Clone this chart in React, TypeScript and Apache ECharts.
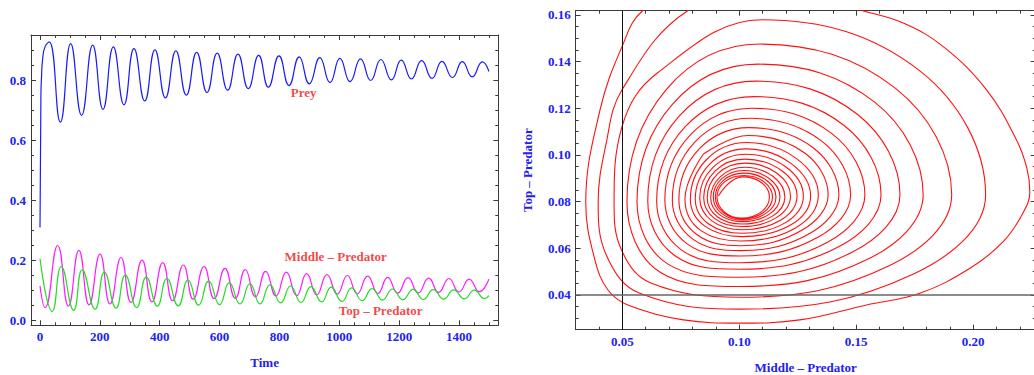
import React, { useEffect, useRef } from "react";
import * as echarts from "echarts";

// ---------- time series (left panel): [time, value] read from peaks / troughs ----------
const preyCurve: [number, number][] = [
  [0, 0.309], [3, 0.75], [5, 0.81], [9, 0.873], [17, 0.912], [31, 0.928], [68, 0.66],
  [102.5, 0.922], [139, 0.683], [176, 0.917], [210.5, 0.703], [245, 0.911], [280.6, 0.718],
  [314, 0.905], [350, 0.731], [384, 0.901], [419, 0.741], [454, 0.898], [489, 0.75],
  [523.5, 0.893], [558, 0.759], [592, 0.89], [627, 0.767], [661.5, 0.887], [696, 0.772],
  [730.6, 0.883], [763, 0.777], [798.5, 0.881], [832, 0.782], [866, 0.878], [900, 0.788],
  [935, 0.875], [969, 0.792], [1002, 0.873], [1036, 0.795], [1071, 0.871], [1105, 0.799],
  [1139, 0.869], [1174, 0.801], [1207, 0.867], [1241, 0.804], [1275, 0.865], [1310, 0.806],
  [1343, 0.863], [1378, 0.809], [1411, 0.862], [1444, 0.811], [1478, 0.861], [1500, 0.829],
];

const middleCurve: [number, number][] = [
  [0, 0.114], [17, 0.042], [59, 0.249], [95, 0.047], [130, 0.233], [164, 0.051],
  [200.5, 0.22], [234, 0.054], [270.6, 0.209], [304, 0.059], [341, 0.2], [374, 0.061],
  [410, 0.192], [443, 0.065], [479, 0.184], [512, 0.07], [548, 0.179], [582, 0.072],
  [618, 0.173], [652.5, 0.073], [686, 0.169], [720, 0.078], [754, 0.163], [788.5, 0.081],
  [823, 0.16], [857.6, 0.082], [891, 0.155], [924.6, 0.084], [959, 0.152], [993, 0.087],
  [1027, 0.149], [1060, 0.088], [1095, 0.147], [1129, 0.089], [1161.5, 0.143], [1195, 0.09],
  [1229.5, 0.142], [1264, 0.091], [1298.6, 0.14], [1332, 0.093], [1366.5, 0.139], [1400, 0.094],
  [1434, 0.137], [1468, 0.095], [1500, 0.137],
];

const topCurve: [number, number][] = [
  [0, 0.205], [41, 0.029], [71, 0.179], [112.5, 0.033], [141, 0.168], [184, 0.037],
  [215, 0.16], [254, 0.04], [285, 0.15], [323, 0.042], [355, 0.144], [392, 0.047],
  [424, 0.139], [462, 0.048], [494.5, 0.134], [530, 0.05], [563.5, 0.13], [600, 0.052],
  [632.5, 0.125], [668, 0.054], [701.6, 0.122], [735, 0.054], [768.5, 0.118], [804, 0.058],
  [837.6, 0.114], [872, 0.059], [905.5, 0.112], [941, 0.061], [973, 0.11], [1009, 0.063],
  [1041.5, 0.108], [1076, 0.065], [1110, 0.105], [1144, 0.067], [1178, 0.104], [1212, 0.068],
  [1247, 0.103], [1281, 0.069], [1314, 0.102], [1349, 0.07], [1382, 0.101], [1418, 0.071],
  [1451, 0.1], [1486, 0.072], [1500, 0.082],
];

// annotations (data coordinates of the left panel)
const labelNames = ["Prey", "Middle \u2013 Predator", "Top \u2013 Predator"];
const labelTimes = [881, 988, 1138];
const labelValues = [0.758, 0.214, 0.032];

// ---------- phase portrait (right panel): [middle, top] ----------
// outer turns (read with extra shoulder points)
const phaseOuter: [number, number][] = [
  [0.113, 0.2],
  [0.0588, 0.1619], [0.0499, 0.1464], [0.0405, 0.1193], [0.0344, 0.0794], [0.0383, 0.055],
  [0.0439, 0.0421], [0.0524, 0.0357], [0.0761, 0.0293], [0.1003, 0.0279], [0.1259, 0.0293],
  [0.1544, 0.0357], [0.1772, 0.0407], [0.1986, 0.0514], [0.2128, 0.0628], [0.2208, 0.0743],
  [0.2242, 0.0841], [0.2229, 0.0944], [0.2185, 0.1064], [0.2057, 0.1279], [0.1872, 0.1464],
  [0.1701, 0.1565], [0.1523, 0.1619], [0.1174, 0.172],
  [0.0781, 0.1619], [0.0499, 0.1279], [0.043, 0.1043], [0.0397, 0.0794], [0.0434, 0.0566],
  [0.0575, 0.0407], [0.1003, 0.0339], [0.1745, 0.049], [0.2053, 0.0829], [0.1773, 0.1359],
  [0.1097, 0.1579], [0.065, 0.1351],
  [0.0499, 0.1121], [0.0465, 0.0794], [0.0497, 0.0592], [0.0622, 0.0451], [0.1003, 0.039],
  [0.1643, 0.0526], [0.1908, 0.0829], [0.1668, 0.1285], [0.1088, 0.1475], [0.0687, 0.1279],
  [0.052, 0.0799], [0.0662, 0.0497], [0.1003, 0.0436], [0.1557, 0.0557], [0.1786, 0.0829],
  [0.158, 0.1225], [0.108, 0.1389], [0.0715, 0.1218],
  [0.0563, 0.0799], [0.0692, 0.0534], [0.1003, 0.0476], [0.1486, 0.0585], [0.1687, 0.0829],
  [0.1506, 0.1173], [0.1071, 0.1316], [0.0744, 0.1167],
  [0.0609, 0.0803], [0.0724, 0.0569], [0.1003, 0.051], [0.1429, 0.0609], [0.1606, 0.0829],
  [0.1447, 0.1127], [0.1063, 0.125], [0.0769, 0.1121],
  [0.0647, 0.0803], [0.0751, 0.0594], [0.1003, 0.0538], [0.1381, 0.0628], [0.1537, 0.0829],
  [0.1396, 0.1091], [0.1054, 0.12], [0.0791, 0.1086],
  [0.0682, 0.0807], [0.0776, 0.062], [0.1003, 0.0567], [0.1338, 0.0648], [0.1476, 0.0829],
  [0.135, 0.1061], [0.1046, 0.1157], [0.0811, 0.1056],
  [0.0714, 0.0807], [0.08, 0.064], [0.1007, 0.059], [0.1303, 0.0664], [0.1426, 0.0829],
  [0.1313, 0.1033], [0.1041, 0.1117], [0.083, 0.1027],
  [0.0742, 0.0807], [0.082, 0.0658], [0.1007, 0.0611], [0.1271, 0.0679], [0.138, 0.0829],
  [0.128, 0.1008], [0.1037, 0.1083], [0.0847, 0.1004],
];
// inner turns (extremes only: left, bottom, right, top)
const phaseInner: [number, number][] = [
  [0.0847, 0.1004],
  [0.0768, 0.0811], [0.1007, 0.0631], [0.1338, 0.0829], [0.1033, 0.1053],
  [0.0791, 0.0811], [0.1012, 0.065], [0.1305, 0.0824], [0.1029, 0.1026],
  [0.0812, 0.0811], [0.1012, 0.0664], [0.1274, 0.0824], [0.1029, 0.1003],
  [0.0831, 0.0816], [0.1012, 0.0679], [0.1247, 0.0824], [0.1024, 0.0982],
  [0.0848, 0.0816], [0.1012, 0.0693], [0.1219, 0.0824], [0.1024, 0.0965],
  [0.0863, 0.0816], [0.1012, 0.0704], [0.1195, 0.082], [0.1024, 0.0947],
  [0.0878, 0.0816], [0.1012, 0.0714], [0.1174, 0.082], [0.102, 0.0933],
  [0.0889, 0.082], [0.1012, 0.0721], [0.1157, 0.082], [0.102, 0.0922],
  [0.0898, 0.082], [0.1012, 0.0726], [0.1142, 0.082], [0.102, 0.0912],
  [0.0905, 0.082], [0.1012, 0.0729], [0.1129, 0.082], [0.1016, 0.0906],
  [0.0911, 0.0824],
];
const refLineMiddle = 0.05;
const refLineTop = 0.04;

// ---------- ticks ----------
const timeMajor = [0, 200, 400, 600, 800, 1000, 1200, 1400];
const timeMinor = [0, 50, 100, 150, 200, 250, 300, 350, 400, 450, 500, 550, 600, 650, 700, 750,
  800, 850, 900, 950, 1000, 1050, 1100, 1150, 1200, 1250, 1300, 1350, 1400, 1450, 1500];
const popMajor = [0, 0.2, 0.4, 0.6, 0.8];
const popMinor = [0, 0.05, 0.1, 0.15, 0.2, 0.25, 0.3, 0.35, 0.4, 0.45, 0.5, 0.55, 0.6, 0.65,
  0.7, 0.75, 0.8, 0.85, 0.9];
const midMajor = [0.05, 0.1, 0.15, 0.2];
const midMinor = [0.04, 0.05, 0.06, 0.07, 0.08, 0.09, 0.1, 0.11, 0.12, 0.13, 0.14, 0.15, 0.16,
  0.17, 0.18, 0.19, 0.2, 0.21, 0.22];
const topMajor = [0.04, 0.06, 0.08, 0.1, 0.12, 0.14, 0.16];
const topMinor = [0.03, 0.035, 0.04, 0.045, 0.05, 0.055, 0.06, 0.065, 0.07, 0.075, 0.08, 0.085,
  0.09, 0.095, 0.1, 0.105, 0.11, 0.115, 0.12, 0.125, 0.13, 0.135, 0.14, 0.145, 0.15, 0.155, 0.16];

const FONT = "'Liberation Serif', 'Times New Roman', serif";
const BLUE = "#2222ee";
const RED = "#f01414";
const FRAME = "#3a3a3a";

const textStyle = { color: BLUE, fontFamily: FONT, fontWeight: "bold" as const, fontSize: 13 };

function makeAxis(
  gridIndex: number,
  position: string,
  min: number,
  max: number,
  ticks: number[],
  len: number,
  main: boolean,
  labels?: number[],
  fmt?: (v: number) => string,
  name?: string,
  nameGap?: number
) {
  const ax: any = {
    type: "value",
    gridIndex,
    position,
    min,
    max,
    splitLine: { show: false },
    axisLine: { show: main, onZero: false, lineStyle: { color: FRAME, width: 1 } },
    axisTick: {
      show: true,
      inside: true,
      length: len,
      customValues: ticks,
      lineStyle: { color: FRAME, width: 1 },
    },
    axisLabel: labels
      ? { show: true, customValues: labels, formatter: fmt, margin: 5, ...textStyle }
      : { show: false },
  };
  if (name) {
    ax.name = name;
    ax.nameLocation = "middle";
    ax.nameGap = nameGap;
    ax.nameTextStyle = { ...textStyle };
  }
  return ax;
}

export default function App() {
  const ref = useRef<HTMLDivElement>(null);

  useEffect(() => {
    if (!ref.current) return;
    const chart = echarts.init(ref.current, undefined, { renderer: "svg" });

    const tMin = -30.1, tMax = 1531.3, pMin = -0.017, pMax = 0.9507;
    const mMin = 0.0301, mMax = 0.2267, qMin = 0.0251, qMax = 0.1618;
    const g0 = { left: 31, top: 35, width: 467.3, height: 290.3, outerBoundsMode: "none", containLabel: false };
    const g1 = { left: 575.7, top: 10.7, width: 460, height: 319, outerBoundsMode: "none", containLabel: false };
    const redLine = { color: "#ff1010", width: 1.1 };

    const option: any = {
      animation: false,
      grid: [g0, g0, g1, g1],
      xAxis: [
        makeAxis(0, "bottom", tMin, tMax, timeMajor, 5, true, timeMajor, (v) => String(v), "Time", 31),
        makeAxis(0, "top", tMin, tMax, timeMajor, 5, true),
        makeAxis(1, "bottom", tMin, tMax, timeMinor, 3, false),
        makeAxis(1, "top", tMin, tMax, timeMinor, 3, false),
        makeAxis(2, "bottom", mMin, mMax, midMajor, 5, true, midMajor, (v) => v.toFixed(2), "Middle \u2013 Predator", 31),
        makeAxis(2, "top", mMin, mMax, midMajor, 5, true),
        makeAxis(3, "bottom", mMin, mMax, midMinor, 3, false),
        makeAxis(3, "top", mMin, mMax, midMinor, 3, false),
      ],
      yAxis: [
        makeAxis(0, "left", pMin, pMax, popMajor, 5, true, popMajor, (v) => v.toFixed(1)),
        makeAxis(0, "right", pMin, pMax, popMajor, 5, true),
        makeAxis(1, "left", pMin, pMax, popMinor, 3, false),
        makeAxis(1, "right", pMin, pMax, popMinor, 3, false),
        makeAxis(2, "left", qMin, qMax, topMajor, 5, true, topMajor, (v) => v.toFixed(2), "Top \u2013 Predator", 42),
        makeAxis(2, "right", qMin, qMax, topMajor, 5, true),
        makeAxis(3, "left", qMin, qMax, topMinor, 3, false),
        makeAxis(3, "right", qMin, qMax, topMinor, 3, false),
      ],
      series: [
        {
          type: "line", xAxisIndex: 0, yAxisIndex: 0, data: preyCurve, smooth: 0.5,
          showSymbol: false, lineStyle: { color: "#1a1aff", width: 1.2 }, silent: true,
        },
        {
          type: "line", xAxisIndex: 0, yAxisIndex: 0, data: middleCurve, smooth: 0.5,
          showSymbol: false, lineStyle: { color: "#ff1aff", width: 1.2 }, silent: true,
        },
        {
          type: "line", xAxisIndex: 0, yAxisIndex: 0, data: topCurve, smooth: 0.5,
          showSymbol: false, lineStyle: { color: "#22dd22", width: 1.2 }, silent: true,
        },
        {
          type: "scatter", xAxisIndex: 0, yAxisIndex: 0, symbolSize: 1, silent: true,
          itemStyle: { color: "rgba(0,0,0,0)" },
          label: {
            show: true, position: "inside", formatter: (p: any) => p.name,
            color: RED, fontFamily: FONT, fontWeight: "bold", fontSize: 13,
          },
          data: labelNames.map((n, i) => ({ name: n, value: [labelTimes[i], labelValues[i]] })),
        },
        {
          type: "line", xAxisIndex: 4, yAxisIndex: 4, data: phaseOuter, smooth: 0.39,
          showSymbol: false, lineStyle: redLine, silent: true,
        },
        {
          type: "line", xAxisIndex: 4, yAxisIndex: 4, data: phaseInner, smooth: 0.55,
          showSymbol: false, lineStyle: redLine, silent: true,
          markLine: {
            silent: true, symbol: ["none", "none"], label: { show: false },
            data: [
              { xAxis: refLineMiddle, lineStyle: { color: "#111", width: 1, type: "solid" } },
              { yAxis: refLineTop, lineStyle: { color: "#666", width: 1.6, type: "solid" } },
            ],
          },
        },
      ],
    };
    chart.setOption(option);
    return () => chart.dispose();
  }, []);

  return (
    <div
      ref={ref}
      style={{ position: "absolute", left: 0, top: 0, width: 1034, height: 375, background: "#fff" }}
    />
  );
}
